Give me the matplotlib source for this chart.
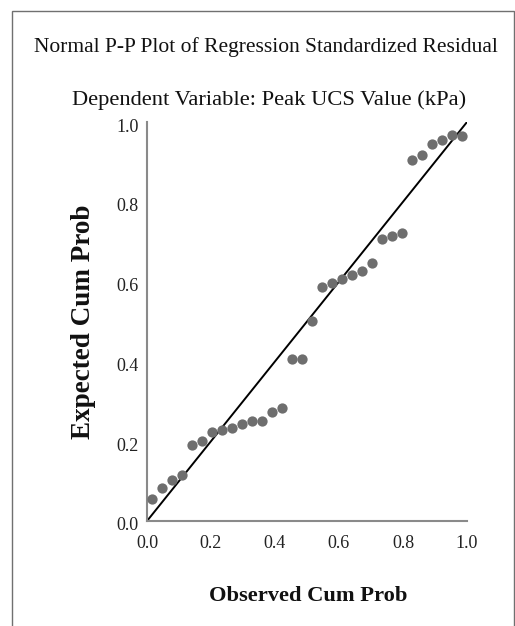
import matplotlib
matplotlib.use("Agg")
import matplotlib.pyplot as plt
from matplotlib.patches import Rectangle
from matplotlib.transforms import ScaledTranslation

# Observed vs expected cumulative probabilities of the standardized residuals
observed_cum_prob = [0.016, 0.047, 0.078, 0.109, 0.141, 0.172, 0.203, 0.234,
                     0.266, 0.297, 0.328, 0.359, 0.391, 0.422, 0.453, 0.484,
                     0.516, 0.547, 0.578, 0.609, 0.641, 0.672, 0.703, 0.734,
                     0.766, 0.797, 0.828, 0.859, 0.891, 0.922, 0.953, 0.984]
expected_cum_prob = [0.054, 0.082, 0.103, 0.115, 0.190, 0.201, 0.222, 0.228,
                     0.233, 0.243, 0.250, 0.250, 0.273, 0.282, 0.405, 0.405,
                     0.501, 0.587, 0.596, 0.606, 0.617, 0.627, 0.646, 0.707,
                     0.714, 0.722, 0.905, 0.917, 0.944, 0.955, 0.967, 0.966]
reference_line = [0.0, 1.0]
tick_values = [0.0, 0.2, 0.4, 0.6, 0.8, 1.0]
tick_labels = ["0.0", "0.2", "0.4", "0.6", "0.8", "1.0"]

W, H = 515, 626
fig = plt.figure(figsize=(W / 100, H / 100), dpi=100)
fig.patch.set_facecolor("white")

serif = ["Liberation Serif", "DejaVu Serif"]

# outer frame around the chart
fig.patches.append(Rectangle((12 / W, -0.05), (514 - 12) / W, 1.05 - 11 / H,
                             transform=fig.transFigure, fill=False,
                             edgecolor="#707070", linewidth=1.0, clip_on=False))

ax = fig.add_axes([147 / W, 1 - 521 / H, (467 - 147) / W, (521 - 122) / H])
ax.set_xlim(0, 1)
ax.set_ylim(0, 1)

ax.plot(reference_line, reference_line, color="black", linewidth=1.4, zorder=2)
ax.plot(observed_cum_prob, expected_cum_prob, linestyle="none", marker="o",
        markersize=7.4, color="#6e6e6e", markeredgewidth=0, zorder=3,
        clip_on=False)

for side in ("top", "right"):
    ax.spines[side].set_visible(False)
for side in ("left", "bottom"):
    ax.spines[side].set_color("#8a8a8a")
    ax.spines[side].set_linewidth(1.5)

ax.set_xticks(tick_values)
ax.set_xticklabels(tick_labels)
ax.set_yticks(tick_values)
ax.set_yticklabels(tick_labels)
ax.tick_params(axis="both", length=0, labelsize=13)
ax.tick_params(axis="x", pad=10)
ax.tick_params(axis="y", pad=6)
shift_down = ScaledTranslation(0, -3 / 100, fig.dpi_scale_trans)
for lab in ax.get_yticklabels():
    lab.set_transform(lab.get_transform() + shift_down)
for lab in ax.get_xticklabels() + ax.get_yticklabels():
    lab.set_family(serif)
    lab.set_color("#222222")

fig.text(266 / W, 1 - 47 / H,
         "Normal P-P Plot of Regression Standardized Residual",
         ha="center", va="center", fontsize=15.5, family=serif, color="#111111")
fig.text(269 / W, 1 - 100 / H,
         "Dependent Variable: Peak UCS Value (kPa)",
         ha="center", va="center", fontsize=16.2, family=serif, color="#111111")

fig.text(308 / W, 1 - 596 / H, "Observed Cum Prob", ha="center", va="center",
         fontsize=16.2, fontweight="bold", family=serif, color="#111111")
fig.text(84 / W, 1 - 321.5 / H, "Expected Cum Prob", ha="center", va="center",
         rotation=90, fontsize=19.5, fontweight="bold", family=serif,
         color="#111111")

fig.savefig("out.png", dpi=100, facecolor="white")
